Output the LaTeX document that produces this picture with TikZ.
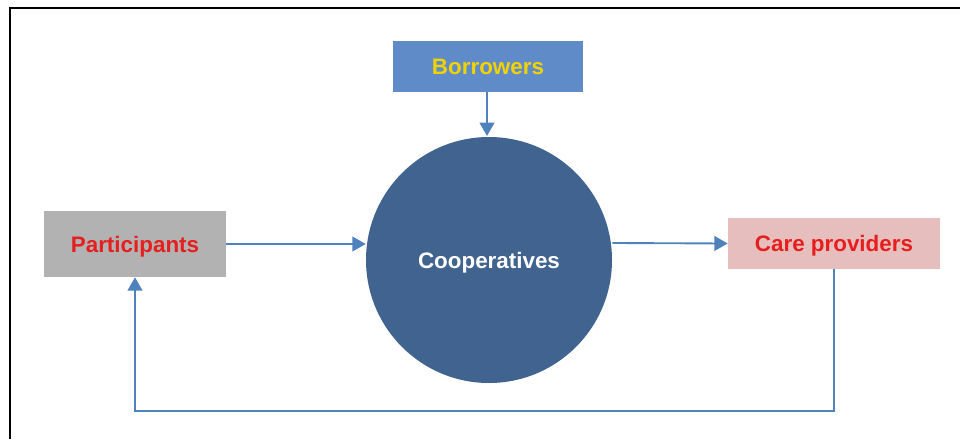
\documentclass[tikz,border=0pt]{standalone}
\usepackage{fontspec}
\setmainfont{Liberation Sans}
\usetikzlibrary{arrows.meta}

\definecolor{linkblue}{HTML}{4F81BD}
\definecolor{boxblue}{HTML}{5F8CC9}
\definecolor{coopblue}{HTML}{41638F}
\definecolor{boxgray}{HTML}{B2B2B2}
\definecolor{boxpink}{HTML}{E6BEBE}
\definecolor{textred}{HTML}{E61E1E}
\definecolor{textyellow}{HTML}{F2D200}

\tikzset{
  label text/.style={font=\fontsize{16.8}{20}\selectfont\bfseries, text height=12pt, text depth=0pt},
  party/.style={rectangle, inner sep=0pt, label text},
  link/.style={draw=linkblue, line width=1.4pt, -{Triangle[length=10pt,width=11pt]}}
}

\begin{document}
\begin{tikzpicture}[x=0.75pt,y=-0.75pt]
\useasboundingbox (0,0) rectangle (960,439);
\draw[line width=1.5pt] (960,8) -- (10,8) -- (10,439);
\node[party, fill=boxblue, text=textyellow, minimum width=142.5pt, minimum height=38.25pt] (borrow) at (488,66.5) {Borrowers};
\node[circle, fill=coopblue, text=white, minimum size=184.5pt, inner sep=0pt, label text] (coop) at (489,260) {Cooperatives};
\node[party, fill=boxgray, text=textred, minimum width=136.5pt, minimum height=49.5pt] (part) at (135,244) {Participants};
\node[party, fill=boxpink, text=textred, minimum width=159pt, minimum height=38.25pt] (care) at (834,243.5) {Care providers};
\coordinate (loop) at (489,411);
\draw[link] (borrow.south -| 487,0) -- (487,136);
\draw[link] (part.east) -- (part.east -| coop.west);
\draw[link] (coop.east |- 0,243) -- (care.west);
\draw[link] (care.south) |- (loop) -| (part.south);
\end{tikzpicture}
\end{document}
